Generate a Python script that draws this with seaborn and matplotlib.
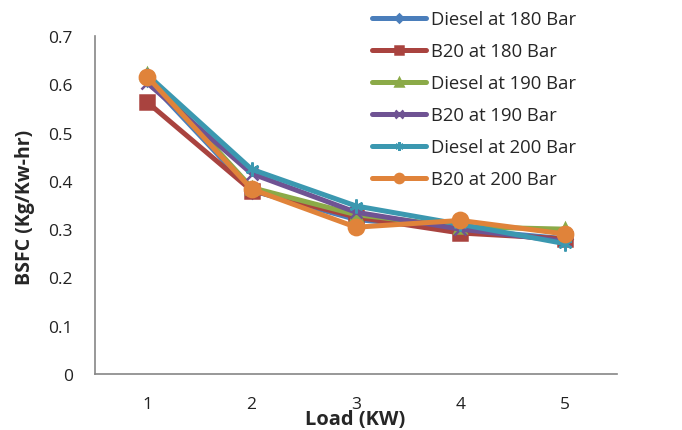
import matplotlib
matplotlib.use("Agg")
import matplotlib.pyplot as plt
import seaborn as sns
import pandas as pd
from matplotlib.ticker import FixedLocator

load = [1, 2, 3, 4, 5]
series_names = ["Diesel at 180 Bar", "B20 at 180 Bar", "Diesel at 190 Bar",
                "B20 at 190 Bar", "Diesel at 200 Bar", "B20 at 200 Bar"]
diesel_180 = [0.610, 0.380, 0.320, 0.300, 0.280]
b20_180 = [0.563, 0.380, 0.325, 0.292, 0.280]
diesel_190 = [0.622, 0.386, 0.330, 0.305, 0.300]
b20_190 = [0.603, 0.415, 0.335, 0.300, 0.275]
diesel_200 = [0.620, 0.424, 0.348, 0.310, 0.270]
b20_200 = [0.616, 0.383, 0.304, 0.318, 0.290]
values = [diesel_180, b20_180, diesel_190, b20_190, diesel_200, b20_200]

colors = ["#4A7EBB", "#A9433F", "#8BAA48", "#6F5393", "#3B98B0", "#E0833A"]
markers = ["D", "s", "^", "x", (6, 2, 0), "o"]
msizes = [7, 10, 9, 9, 10, 11]

rows = []
for name, vals in zip(series_names, values):
    for x, v in zip(load, vals):
        rows.append({"Load": x, "BSFC": v, "Series": name})
df = pd.DataFrame(rows)

sns.set_style("white")
plt.rcParams['font.family'] = ['Open Sans', 'DejaVu Sans']

fig = plt.figure(figsize=(6.82, 4.31), dpi=100)
ax = fig.add_axes([95/682, (431-375)/431, (617-95)/682, (375-37)/431])

for name, c, m, ms in zip(series_names, colors, markers, msizes):
    sub = df[df["Series"] == name]
    sns.lineplot(data=sub, x="Load", y="BSFC", ax=ax, color=c, linewidth=3.6,
                 marker=m, markersize=ms, markeredgecolor=c, markeredgewidth=1.8,
                 label=name, legend=False)

ax.set_xlim(0.5, 5.5)
ax.set_ylim(0, 0.7)
ax.set_yticks([0, 0.1, 0.2, 0.3, 0.4, 0.5, 0.6, 0.7])
ax.set_yticklabels(["0", "0.1", "0.2", "0.3", "0.4", "0.5", "0.6", "0.7"])
ax.set_xticks(load)
ax.set_xticklabels([str(v) for v in load])
ax.xaxis.set_minor_locator(FixedLocator([0.5, 1.5, 2.5, 3.5, 4.5, 5.5]))
ax.tick_params(axis="x", which="major", length=0, pad=16, labelsize=12.5, colors="#222222")
ax.tick_params(axis="x", which="minor", length=5, width=1, color="#868686", direction="out")
ax.tick_params(axis="y", which="major", length=5, width=1, color="#868686", direction="out",
               pad=11, labelsize=12.5, labelcolor="#222222")
for s in ["top", "right"]:
    ax.spines[s].set_visible(False)
for s in ["left", "bottom"]:
    ax.spines[s].set_color("#868686")
    ax.spines[s].set_linewidth(1.2)

ax.set_xlabel("Load (KW)", fontsize=14.5, fontweight="bold")
ax.xaxis.set_label_coords((355-95)/(617-95), -(420-375)/(375-37))
ax.xaxis.label.set_va("center")
ax.set_ylabel("BSFC (Kg/Kw-hr)", fontsize=14, fontweight="bold")
ax.yaxis.set_label_coords(-(95-25)/(617-95), (375-207)/(375-37))
ax.yaxis.label.set_va("center")

handles, labels = ax.get_legend_handles_labels()
leg = fig.legend(handles, labels, loc="upper left", bbox_to_anchor=(372/682, 1 - 11/431),
                 frameon=False, fontsize=13.3, handlelength=2.9, labelspacing=0.76,
                 handletextpad=0.3, markerscale=0.6, borderpad=0, borderaxespad=0)

fig.savefig("out.png", dpi=100, facecolor="white")
